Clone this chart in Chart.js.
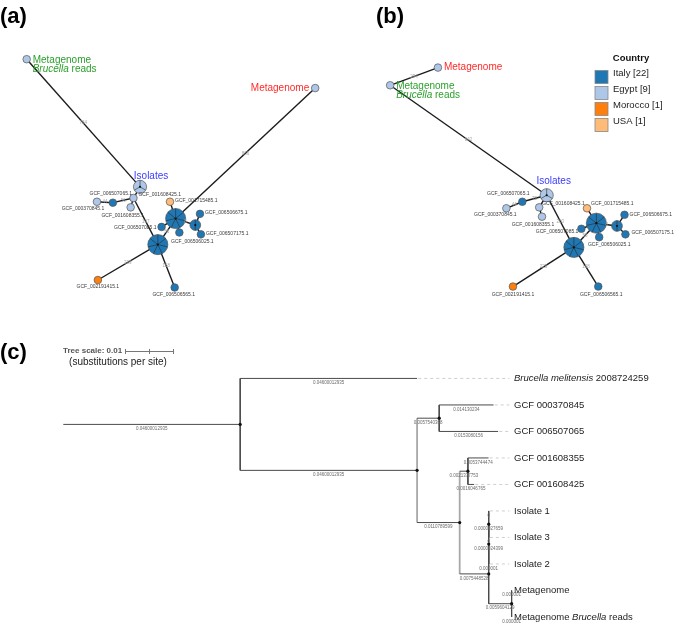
<!DOCTYPE html>
<html>
<head>
<meta charset="utf-8">
<script src="https://cdn.jsdelivr.net/npm/chart.js@4.4.1/dist/chart.umd.min.js"></script>
<style>
  html, body { margin: 0; padding: 0; background: #fff; }
  #wrap { position: relative; width: 684px; height: 627px; overflow: hidden; }
  #wrap canvas { position: absolute; }
</style>
</head>
<body>
<div id="wrap">
  <canvas id="netA" width="340" height="315" style="left:0;top:0"></canvas>
  <canvas id="netB" width="344" height="315" style="left:340px;top:0"></canvas>
  <canvas id="tree" width="684" height="312" style="left:0;top:315px"></canvas>
</div>
<script>
// ─── Shared config ─────────────────────────────────────
const FONT = "'Liberation Sans', Arial, Helvetica, sans-serif";

// ─── Country legend ────────────────────────────────────
const countries     = ['Italy', 'Egypt', 'Morocco', 'USA'];
const countryCounts = [22, 9, 1, 1];
const countryColors = ['#1f77b4', '#aec7e8', '#ff7f0e', '#ffbb78'];

// ─── MST nodes (same nodes in a and b) ─────────────────
const nodeTitles  = ['Metagenome|*Brucella* reads', 'Metagenome', 'Isolates',
                     'GCF_001608425.1', 'GCF_006507065.1', 'GCF_000370845.1', 'GCF_001608355.1',
                     'GCF_001715485.1', '', 'GCF_006506675.1', '', 'GCF_006507175.1',
                     'GCF_006506025.1', 'GCF_006507085.1', '', 'GCF_002191415.1', 'GCF_006506565.1'];
const nodeCountry = ['Egypt', 'Egypt', 'Egypt', 'Egypt', 'Italy', 'Egypt', 'Egypt', 'USA', 'Italy',
                     'Italy', 'Italy', 'Italy', 'Italy', 'Italy', 'Italy', 'Morocco', 'Italy'];
const nodeMembers = [1, 1, 3, 1, 1, 1, 1, 1, 7, 1, 2, 1, 1, 1, 7, 1, 1];

// layout coordinates (a)
const layoutAX = [17, 325, 138, 131, 109, 92, 128, 170, 176, 202, 197, 203, 180, 161, 157, 93, 175];
const layoutAY = [52, 83, 189, 201, 206, 205, 211, 205, 223, 218, 230, 240, 238, 232, 251, 289, 297];
// layout coordinates (b)
const layoutBX = [382, 433, 549, 541, 523, 506, 544, 592, 602, 632, 624, 633, 605, 586, 578, 513, 604];
const layoutBY = [80, 61, 198, 211, 205, 212, 221, 212, 228, 219, 231, 240, 243, 234, 254, 296, 296];

// edges (a)
const edgeFromA = [0, 1, 2, 3, 3, 4, 3, 8, 8, 8, 8, 8, 10, 10, 14, 14];
const edgeToA   = [2, 8, 3, 6, 4, 5, 14, 14, 7, 13, 12, 10, 9, 11, 15, 16];
const edgeDistA = ['784', '866', '', '', '56', '44', '197', '56', '', '', '', '8', '', '', '229', '168'];
// edges (b)
const edgeFromB = [0, 0, 2, 3, 4, 4, 2, 8, 8, 8, 8, 8, 10, 10, 14, 14];
const edgeToB   = [1, 2, 3, 6, 2, 5, 14, 14, 7, 13, 12, 10, 9, 11, 15, 16];
const edgeDistB = ['294', '842', '', '', '72', '44', '200', '56', '', '', '', '8', '', '', '229', '168'];

// label placement: [dx, dy, align]
const labelPosA = [[6, 1, 'left'], [-6, 0, 'right'], [11, -11, 'center'], [5, -3, 'left'],
                   [-2, -9, 'center'], [-14, 7, 'center'], [-8, 8, 'center'], [5, -1, 'left'], null,
                   [5, -1, 'left'], null, [5, -1, 'left'], [13, 9, 'center'], [-5, 1, 'right'], null,
                   [0, 7, 'center'], [-1, 7, 'center']];
const labelPosB = [[6, 1, 'left'], [6, 0, 'left'], [7, -14, 'center'], [3, -4, 'left'],
                   [-14, -8, 'center'], [-11, 6, 'center'], [-9, 8, 'center'], [4, -5, 'left'], null,
                   [5, 0, 'left'], null, [6, -2, 'left'], [10, 7, 'center'], [-3, 3, 'right'], null,
                   [0, 8, 'center'], [3, 8, 'center']];
const titleColors = { 0: '#2ca02c', 1: '#ff2a2a', 2: '#3b3bff' };

// ─── Phylogenetic tree ─────────────────────────────────
const treeLabels = ['', '*Brucella melitensis* 2008724259', '', '', 'GCF 000370845', 'GCF 006507065',
                    '', '', 'GCF 001608355', 'GCF 001608425', '', '', '', 'Isolate 1', 'Isolate 3',
                    'Isolate 2', '', 'Metagenome', 'Metagenome *Brucella* reads'];
const treeParent = [-1, 0, 0, 2, 3, 3, 2, 6, 7, 7, 6, 10, 11, 12, 12, 11, 10, 16, 16];
const branchLen  = [0.04600012935, 0.04600012935, 0.04600012935, 0.0057540368, 0.014130234,
                    0.0153080156, 0.0110789599, 0.0021377753, 0.0053744474, 0.0016046765,
                    0.0075448528, 0.0000024399, 0.0000027659, 0, 0, 0.000001, 0.0059604129,
                    0.000001, 0.000001];
// internal nodes whose vertical bar is drawn grey in the figure
const greyClades = [2, 6];

// ─── Helpers ───────────────────────────────────────────
function nodeRadius(n) { return 3.8 * Math.sqrt(n); }

function drawRich(ctx, text, x, y, size, align, weight) {
    const parts = text.split('*');
    const fonts = parts.map((_, k) => (k % 2 ? 'italic ' : '') + (weight || '') + ' ' + size + 'px ' + FONT);
    let w = 0;
    parts.forEach((p, k) => { ctx.font = fonts[k]; w += ctx.measureText(p).width; });
    let cx = align === 'center' ? x - w / 2 : align === 'right' ? x - w : x;
    ctx.textAlign = 'left';
    parts.forEach((p, k) => { ctx.font = fonts[k]; ctx.fillText(p, cx, y); cx += ctx.measureText(p).width; });
}

function hiddenScales(xmin, xmax, ymin, ymax) {
    return {
        x: { type: 'linear', display: false, min: xmin, max: xmax },
        y: { type: 'linear', display: false, min: ymin, max: ymax, reverse: true }
    };
}

// ─── NETWORK CHART (a, b) ──────────────────────────────
function networkChart(id, xs, ys, from, to, dist, labelPos, xmin, xmax, letter, letterX, legend) {
    const nodeSets = countries.map((c, ci) => ({
        type: 'bubble',
        order: 1,
        data: xs.map((x, i) => ({ x, y: ys[i], r: nodeRadius(nodeMembers[i]), i }))
                .filter(p => nodeCountry[p.i] === c),
        backgroundColor: countryColors[ci],
        borderColor: '#555',
        borderWidth: 0.7
    }));
    const edgeSets = from.map((f, k) => ({
        type: 'scatter',
        order: 2,
        showLine: true,
        data: [{ x: xs[f], y: ys[f] }, { x: xs[to[k]], y: ys[to[k]] }],
        borderColor: '#1b1b1b',
        borderWidth: 1.4,
        pointRadius: 0
    }));

    const textPlugin = {
        id: 'netText',
        afterDatasetsDraw(chart) {
            const ctx = chart.ctx, sx = chart.scales.x, sy = chart.scales.y;
            const px = i => sx.getPixelForValue(xs[i]);
            const py = i => sy.getPixelForValue(ys[i]);
            ctx.save();
            // pie slices
            nodeMembers.forEach((n, i) => {
                if (n < 2) return;
                const cx = px(i), cy = py(i), r = nodeRadius(n);
                ctx.strokeStyle = '#2a2a2a';
                ctx.lineWidth = 0.6;
                for (let k = 0; k < n; k++) {
                    const a = -Math.PI / 2 + k * 2 * Math.PI / n;
                    ctx.beginPath();
                    ctx.moveTo(cx, cy);
                    ctx.lineTo(cx + r * Math.cos(a), cy + r * Math.sin(a));
                    ctx.stroke();
                }
                ctx.fillStyle = '#111';
                ctx.beginPath(); ctx.arc(cx, cy, 1.1, 0, 2 * Math.PI); ctx.fill();
            });
            // edge distances
            ctx.textBaseline = 'middle';
            ctx.textAlign = 'center';
            ctx.font = '4.5px ' + FONT;
            ctx.fillStyle = '#a5a5a5';
            from.forEach((f, k) => {
                if (!dist[k]) return;
                ctx.fillText(dist[k], (px(f) + px(to[k])) / 2, (py(f) + py(to[k])) / 2);
            });
            // node labels
            nodeTitles.forEach((t, i) => {
                const o = labelPos[i];
                if (!o || !t) return;
                const big = titleColors[i];
                ctx.fillStyle = big || '#3a3a3a';
                t.split('|').forEach((ln, k) =>
                    drawRich(ctx, ln, px(i) + o[0], py(i) + o[1] + k * 9, big ? 10 : 5, o[2]));
            });
            // panel letter
            ctx.fillStyle = '#000';
            ctx.textAlign = 'left';
            ctx.font = 'bold 22px ' + FONT;
            ctx.fillText(letter, letterX, 17);
            // legend
            if (legend) {
                ctx.font = 'bold 9.5px ' + FONT;
                ctx.textAlign = 'center';
                ctx.fillStyle = '#111';
                ctx.fillText('Country', 291, 58);
                countries.forEach((c, ci) => {
                    const yy = 77 + ci * 16;
                    ctx.fillStyle = countryColors[ci];
                    ctx.fillRect(255, yy - 6.5, 13, 13);
                    ctx.strokeStyle = '#888';
                    ctx.lineWidth = 0.8;
                    ctx.strokeRect(255, yy - 6.5, 13, 13);
                    ctx.fillStyle = '#222';
                    ctx.textAlign = 'left';
                    ctx.font = '9.5px ' + FONT;
                    ctx.fillText(`${c} [${countryCounts[ci]}]`, 273, yy - 4);
                });
            }
            ctx.restore();
        }
    };

    return new Chart(document.getElementById(id).getContext('2d'), {
        type: 'bubble',
        data: { datasets: [...nodeSets, ...edgeSets] },
        options: {
            responsive: false,
            animation: false,
            events: [],
            layout: { padding: 0 },
            plugins: { legend: { display: false }, tooltip: { enabled: false } },
            scales: hiddenScales(xmin, xmax, 0, 315)
        },
        plugins: [textPlugin]
    });
}

networkChart('netA', layoutAX, layoutAY, edgeFromA, edgeToA, edgeDistA, labelPosA, 0, 340, '(a)', 0, false);
networkChart('netB', layoutBX, layoutBY, edgeFromB, edgeToB, edgeDistB, labelPosB, 340, 684, '(b)', 36, true);

// ─── TREE CHART (c) ────────────────────────────────────
const TIP_LABEL_X = 0.1172;
const nx = [], ny = [];
const kids = treeParent.map(() => []);
treeParent.forEach((p, i) => {
    nx[i] = (p < 0 ? 0 : nx[p]) + branchLen[i];
    if (p >= 0) kids[p].push(i);
});
let tipCount = 0;
(function place(i) {
    const ch = kids[i];
    if (!ch.length) { ny[i] = tipCount++; return; }
    ch.forEach(place);
    ny[i] = (ny[ch[0]] + ny[ch[ch.length - 1]]) / 2;
})(0);

const seg = (x1, y1, x2, y2, extra) => Object.assign({
    type: 'scatter', showLine: true, data: [{ x: x1, y: y1 }, { x: x2, y: y2 }],
    borderColor: '#4a4a4a', borderWidth: 1, pointRadius: 0, order: 2
}, extra || {});

const treeSets = [];
treeParent.forEach((p, i) => {
    treeSets.push(seg(p < 0 ? 0 : nx[p], ny[i], nx[i], ny[i]));
    const ch = kids[i];
    if (ch.length) {
        const grey = greyClades.includes(i) ? { borderColor: '#a8a8a8', borderWidth: 1.8, order: 3 } : {};
        treeSets.push(seg(nx[i], ny[ch[0]], nx[i], ny[ch[ch.length - 1]], grey));
    } else if (nx[i] < TIP_LABEL_X - 0.002) {
        treeSets.push(seg(nx[i] + 0.0003, ny[i], TIP_LABEL_X - 0.0012, ny[i],
            { borderColor: '#cfcfcf', borderDash: [3, 3], order: 4 }));
    }
});
treeSets.push({
    type: 'scatter',
    order: 1,
    data: treeParent.map((p, i) => kids[i].length ? { x: nx[i], y: ny[i] } : null).filter(Boolean),
    pointRadius: 1.6,
    backgroundColor: '#111',
    borderWidth: 0
});

const treePlugin = {
    id: 'treeText',
    afterDatasetsDraw(chart) {
        const ctx = chart.ctx, sx = chart.scales.x, sy = chart.scales.y;
        ctx.save();
        ctx.textBaseline = 'middle';
        // branch lengths
        ctx.fillStyle = '#6a6a6a';
        treeParent.forEach((p, i) => {
            const x0 = sx.getPixelForValue(p < 0 ? 0 : nx[p]);
            const x1 = sx.getPixelForValue(nx[i]);
            drawRich(ctx, String(branchLen[i]), (x0 + x1) / 2, sy.getPixelForValue(ny[i]) + 4.5, 4.5, 'center');
        });
        // tip labels
        ctx.fillStyle = '#222';
        treeLabels.forEach((t, i) => {
            if (!t) return;
            drawRich(ctx, t, sx.getPixelForValue(TIP_LABEL_X), sy.getPixelForValue(ny[i]), 9.5, 'left');
        });
        // scale bar
        ctx.fillStyle = '#555';
        drawRich(ctx, 'Tree scale: 0.01', 63, 36, 8, 'left', 'bold');
        ctx.strokeStyle = '#777';
        ctx.lineWidth = 1;
        ctx.beginPath();
        ctx.moveTo(125, 36.5); ctx.lineTo(173, 36.5);
        [125, 149, 173].forEach(x => { ctx.moveTo(x + 0.5, 34); ctx.lineTo(x + 0.5, 39); });
        ctx.stroke();
        ctx.fillStyle = '#222';
        drawRich(ctx, '(substitutions per site)', 118, 47, 10, 'center');
        // panel letter
        ctx.fillStyle = '#000';
        drawRich(ctx, '(c)', 0, 38, 22, 'left', 'bold');
        ctx.restore();
    }
};

new Chart(document.getElementById('tree').getContext('2d'), {
    type: 'scatter',
    data: { datasets: treeSets },
    options: {
        responsive: false,
        animation: false,
        events: [],
        layout: { padding: 0 },
        plugins: { legend: { display: false }, tooltip: { enabled: false } },
        scales: hiddenScales(-60 / 3891, 624 / 3891, -61 / 27.2, 251 / 27.2)
    },
    plugins: [treePlugin]
});
</script>
</body>
</html>
